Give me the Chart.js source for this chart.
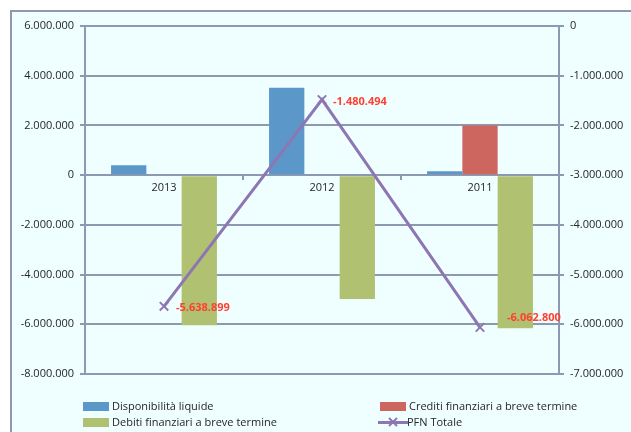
<!DOCTYPE html>
<html lang="it">
<head>
<meta charset="UTF-8">
<title>PFN</title>
<script src="https://cdn.jsdelivr.net/npm/chart.js@4.4.1/dist/chart.umd.min.js"></script>
<style>
  body { margin: 0; background: #fff; width: 631px; height: 432px; overflow: hidden; position: relative; font-family: "Open Sans", sans-serif; }
  .frame { position: absolute; left: 10px; top: 10px; width: 700px; height: 500px; border: 2px solid #8d99b1; background: #efffff; }
  .wrap { position: absolute; left: 0; top: 0; width: 631px; height: 432px; }
  .legend { position: absolute; left: 0; top: 0; width: 631px; height: 432px; pointer-events: none; }
  .legend .item { position: absolute; font-size: 11px; color: #262626; line-height: 14px; white-space: nowrap; }
  .legend .box { position: absolute; width: 26px; height: 9px; }
</style>
</head>
<body>
<div class="frame"></div>
<div class="wrap"><canvas id="chart"></canvas></div>
<div class="legend" id="legend"></div>
<script>
// data
var years = ['2013', '2012', '2011'];
var disponibilita = [400000, 3520000, 160000];
var crediti = [0, 0, 2000000];
var debiti = [-6040000, -4980000, -6160000];
var pfn = [-5638899, -1480494, -6062800];

var seriesNames = ['Disponibilità  liquide', 'Crediti finanziari a breve termine', 'Debiti finanziari a breve termine', 'PFN Totale'];
var seriesColors = ['#5b97c9', '#cd665f', '#b0c272', '#8e76b3'];

function fmt(v) {
  var s = Math.abs(Math.round(v)).toString().replace(/\B(?=(\d{3})+(?!\d))/g, '.');
  return (v < 0 ? '-' : '') + s;
}

var gridColor = '#8d99b1';
var tickFont = { family: 'Open Sans', size: 11 };

// red value labels next to PFN points
var labelOffsets = [[12, 2], [11, 2], [27, -10]];
var pfnLabels = {
  id: 'pfnLabels',
  afterDatasetsDraw: function(chart) {
    var meta = chart.getDatasetMeta(3);
    var ctx = chart.ctx;
    ctx.save();
    ctx.font = 'bold 11px "Open Sans"';
    ctx.fillStyle = '#ff4030';
    ctx.textAlign = 'left';
    ctx.textBaseline = 'middle';
    meta.data.forEach(function(pt, i) {
      ctx.fillText(fmt(pfn[i]), pt.x + labelOffsets[i][0], pt.y + labelOffsets[i][1]);
    });
    ctx.restore();
  }
};

var ctx = document.getElementById('chart').getContext('2d');
var chart = new Chart(ctx, {
  data: {
    labels: years,
    datasets: [
      { type: 'bar', label: seriesNames[0], data: disponibilita, backgroundColor: seriesColors[0], yAxisID: 'y', order: 1 },
      { type: 'bar', label: seriesNames[1], data: crediti, backgroundColor: seriesColors[1], yAxisID: 'y', order: 1 },
      { type: 'bar', label: seriesNames[2], data: debiti, backgroundColor: seriesColors[2], yAxisID: 'y', order: 1 },
      {
        type: 'line', label: seriesNames[3], data: pfn, yAxisID: 'y1', order: 0,
        borderColor: seriesColors[3], backgroundColor: seriesColors[3], borderWidth: 3,
        pointStyle: 'crossRot', pointRadius: 6, pointBorderWidth: 2, tension: 0
      }
    ]
  },
  options: {
    responsive: true,
    maintainAspectRatio: false,
    animation: false,
    layout: { padding: { top: 26, bottom: 58, left: 0, right: 0 } },
    datasets: { bar: { categoryPercentage: 0.67, barPercentage: 1 } },
    plugins: { legend: { display: false }, tooltip: { enabled: false } },
    scales: {
      x: {
        position: { y: 0 },
        grid: { drawOnChartArea: false, color: gridColor, lineWidth: 2, tickLength: 4 },
        border: { color: gridColor, width: 2 },
        ticks: { color: '#262626', font: tickFont, padding: 2 }
      },
      y: {
        position: 'left',
        min: -8000000, max: 6000000,
        afterFit: function(s) { s.width = 85; },
        grid: { color: gridColor, lineWidth: 2, tickLength: 5 },
        border: { color: gridColor, width: 2 },
        ticks: { stepSize: 2000000, color: '#262626', font: tickFont, padding: 6, callback: function(v) { return fmt(v); } }
      },
      y1: {
        position: 'right',
        min: -7000000, max: 0,
        afterFit: function(s) { s.width = 72; },
        grid: { drawOnChartArea: false, color: gridColor, lineWidth: 2, tickLength: 5 },
        border: { color: gridColor, width: 2 },
        ticks: { stepSize: 1000000, color: '#262626', font: tickFont, padding: 6, callback: function(v) { return fmt(v); } }
      }
    }
  },
  plugins: [pfnLabels]
});

// legend in two columns like the original
var legendPos = [[83, 399], [380, 399], [83, 415], [380, 415]];
var legend = document.getElementById('legend');
seriesNames.forEach(function(name, i) {
  var x = legendPos[i][0], y = legendPos[i][1];
  var html = '';
  if (i < 3) {
    html += '<div class="box" style="left:' + x + 'px;top:' + (y + 3) + 'px;background:' + seriesColors[i] + '"></div>';
  } else {
    html += '<svg style="position:absolute;left:' + (x - 2) + 'px;top:' + y + 'px" width="30" height="15">' +
      '<line x1="0" y1="7.5" x2="30" y2="7.5" stroke="' + seriesColors[i] + '" stroke-width="3"/>' +
      '<line x1="11" y1="3" x2="19" y2="11" stroke="' + seriesColors[i] + '" stroke-width="2"/>' +
      '<line x1="19" y1="3" x2="11" y2="11" stroke="' + seriesColors[i] + '" stroke-width="2"/></svg>';
  }
  html += '<div class="item" style="left:' + (x + (i < 3 ? 29 : 27)) + 'px;top:' + y + 'px">' + name + '</div>';
  legend.insertAdjacentHTML('beforeend', html);
});
</script>
</body>
</html>
